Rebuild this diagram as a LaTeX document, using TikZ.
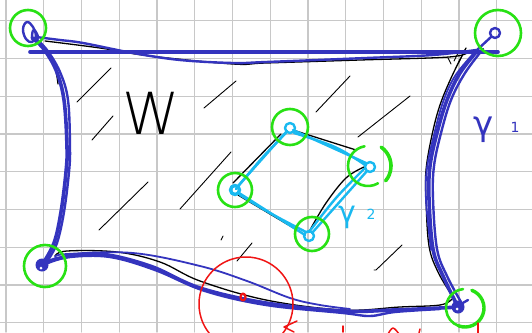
\documentclass[tikz,border=0pt]{standalone}
\usepackage{fontspec}
\newfontfamily\thinfont{DejaVu Sans ExtraLight}
\newfontfamily\labfont{DejaVu Sans}
\definecolor{pblue}{RGB}{52,52,190}
\definecolor{pcyan}{RGB}{25,185,240}
\definecolor{pgreen}{RGB}{40,225,20}
\definecolor{pred}{RGB}{240,20,20}
\definecolor{pgrid}{RGB}{200,200,200}
\begin{document}
\begin{tikzpicture}[x=1pt,y=-1pt,line cap=round,line join=round,
  gridl/.style={draw=pgrid,line width=1.4pt},
  bthick/.style={draw=pblue,line width=3.6pt},
  bmed/.style={draw=pblue,line width=2.4pt},
  bthin/.style={draw=pblue,line width=1.8pt},
  kcurve/.style={draw=black,line width=1.3pt},
  hatch/.style={draw=black,line width=0.9pt},
  cline/.style={draw=pcyan,line width=2.4pt},
  gring/.style={draw=pgreen,line width=2.6pt,circle,inner sep=0pt},
  garc/.style={draw=pgreen,line width=2.6pt},
  rline/.style={draw=pred,line width=1.5pt},
  lab/.style={anchor=base,inner sep=0pt}]
\useasboundingbox (0,0) rectangle (532,332);
\clip (0,0) rectangle (532,332);
\fill[white] (0,0) rectangle (532,332);
% grid
\foreach \i in {0,...,14} \draw[gridl] ({6+37.75*\i},0) -- ({6+37.75*\i},332);
\foreach \j in {0,...,8} \draw[gridl] (0,{20.7+37.75*\j}) -- (532,{20.7+37.75*\j});

% named points
\coordinate (TL) at (30,32);
\coordinate (TR) at (495,33);
\coordinate (BL) at (42,265);
\coordinate (BR) at (458,307);
\coordinate (T2) at (290,128);
\coordinate (R2) at (370,167);
\coordinate (B2) at (309,236);
\coordinate (L2) at (235,190);
\coordinate (X0) at (243,297);

% hatching
\draw[hatch] (77,102) -- (111,68);
\draw[hatch] (92,140) -- (113,116);
\draw[hatch] (204,108) -- (236,81);
\draw[hatch] (180,209) -- (231,152);
\draw[hatch] (99,230) -- (148,182);
\draw[hatch] (316,112) -- (350,76);
\draw[hatch] (358,137) -- (410,96);
\draw[hatch] (221,240) -- (223,236);
\draw[hatch] (237,261) -- (252,243);
\draw[hatch] (374,270) -- (376,270) -- (402,245);
\draw[hatch] (448,58) -- (451,64);
\draw[hatch] (454,61) -- (458,53);
\draw[hatch] (459,62) -- (465,50);

% black outline of W
\draw[kcurve] plot[smooth,tension=0.6] coordinates {(45,41) (100,48) (150,56) (233,64) (266,63) (360,60) (449,57) (468,52)};
\draw[kcurve] plot[smooth,tension=0.6] coordinates {(466,48) (452,76) (440,105) (432,135) (426,170) (426,200) (429,246) (438,272) (451,294)};
\draw[kcurve] plot[smooth,tension=0.6] coordinates {(55,256) (67,251) (117,252) (160,262) (200,281) (266,300) (343,310) (400,307) (440,305) (452,299)};
\draw[kcurve] plot[smooth,tension=0.6] coordinates {(47,55) (55,68) (58,84)};
\draw[kcurve] (296,131) -- (356,150);
\draw[kcurve] plot[smooth,tension=0.6] coordinates {(364,167) (346,178) (326,203) (310,230)};
\draw[kcurve] (302,233) -- (238,195);
\draw[kcurve] (233,183) -- (281,134);

% gamma 1 (blue boundary)
\draw[bthick] plot[smooth,tension=0.6] coordinates {(32,38) (43,48) (56,70) (64,100) (67,147) (66,172) (61,212) (54,243) (BL)};
\draw[bmed] plot[smooth,tension=0.6] coordinates {(35,38) (47,50) (60,72) (68,100) (70,147) (69,172) (64,212) (57,243) (48,260)};
\draw[bthick] (30,52) -- (498,52);
\draw[bmed] plot[smooth,tension=0.6] coordinates {(36,37) (60,40) (83,43) (133,53) (180,60) (233,63) (266,62) (366,58) (433,55) (476,50)};
\draw[bthick] plot[smooth,tension=0.6] coordinates {(478,50) (460,73) (447,100) (437,133) (430,166) (429,199) (433,249) (443,276) (BR)};
\draw[bmed] plot[smooth,tension=0.6] coordinates {(483,49) (465,73) (451,100) (441,133) (434,166) (433,199) (437,249) (447,276) (461,302)};
\draw[bthin] plot[smooth,tension=0.6] coordinates {(474,53) (455,76) (443,102) (434,135) (427,168) (426,200) (431,250)};
\draw[bthick] plot[smooth,tension=0.6] coordinates {(BL) (60,258) (100,254) (150,266) (200,288) (266,303) (343,311) (393,310) (440,308) (BR)};
\draw[bmed] plot[smooth,tension=0.6] coordinates {(48,263) (70,257) (110,257) (155,270) (205,291) (266,305) (343,313) (370,316) (395,312) (440,309)};
\draw[bthin] plot[smooth,tension=0.6] coordinates {(55,257) (67,254) (133,253) (200,266) (247,281) (290,298) (320,305) (350,309)};
% endpoints
\draw[bmed] plot[smooth cycle,tension=0.7] coordinates {(27,22) (23,29) (26,39) (32,42) (36,36) (33,27)};
\draw[bmed] plot[smooth cycle,tension=0.7] coordinates {(34,30) (32,36) (35,41) (38,37)};
\draw[bmed] (TR) circle[radius=5pt];
\draw[bmed] (491,37) -- (477,50);
\fill[pblue] (BL) circle[radius=6.5pt];
\fill[white] (41,268) circle[radius=1.5pt];
\fill[pblue] (BR) circle[radius=6.5pt];
\fill[white] (457,309) circle[radius=1.5pt];
\draw[bmed] (461,304) -- (468,300);

% gamma 2 (cyan)
\draw[cline] (293,130) -- (366,163);
\draw[cline] plot[smooth,tension=0.6] coordinates {(294,133) (335,147) (365,165)};
\draw[cline] (367,171) -- (312,233);
\draw[cline] plot[smooth,tension=0.6] coordinates {(364,169) (336,198) (309,232)};
\draw[cline] (305,235) -- (239,193);
\draw[cline] plot[smooth,tension=0.6] coordinates {(306,232) (270,213) (240,195)};
\draw[cline] (238,186) -- (287,131);
\draw[cline] plot[smooth,tension=0.6] coordinates {(236,189) (262,158) (286,133)};
\draw[cline] (T2) circle[radius=5pt];
\draw[cline] (R2) circle[radius=5pt];
\draw[cline] (B2) circle[radius=5pt];
\draw[cline,line width=3.4pt] (L2) circle[radius=4.5pt];

% green markers
\node[gring,minimum size=36pt] (gTL) at (28,28) {};
\node[gring,minimum size=46pt] (gTR) at (498,33) {};
\node[gring,minimum size=42pt] (gBL) at (45,266) {};
\node[gring,minimum size=36pt] (gT2) at (290,127) {};
\node[gring,minimum size=34pt] (gL2) at (235,190) {};
\node[gring,minimum size=34pt] (gB2) at (312,234) {};
\draw[garc] (368,166) ++(100:20pt) arc[start angle=100,end angle=300,radius=20pt];
\draw[garc,line width=3.6pt] (368,166) ++(55:23pt) arc[start angle=55,end angle=-40,radius=23pt];
\draw[garc] (465,308) ++(96:19pt) arc[start angle=96,end angle=250,radius=19pt];
\draw[garc,line width=3.4pt] (465,308) ++(250:19pt) arc[start angle=250,end angle=429,radius=19pt];

% red point and disc
\draw[rline] (246,304) circle[radius=47pt];
\draw[pred,line width=2.2pt] (X0) ellipse[x radius=2.5pt,y radius=3.5pt];
\draw[rline] (297,321) -- (284,327) -- (294,332);
\draw[rline] (343,326) -- (343,332);
\draw[rline] plot[smooth,tension=0.6] coordinates {(388,334) (393,328) (399,334)};
\draw[rline] (420,329) -- (419,333);
\draw[rline] (478,323) -- (478,333);

% labels
\node[lab,text=black] (W) at (151,134) {\thinfont\fontsize{58}{58}\selectfont W};
\node[lab,text=pblue] (g1) at (484,135) {\labfont\fontsize{34}{34}\selectfont γ};
\node[lab,text=pblue] (g1i) at (515,132) {\labfont\fontsize{14}{14}\selectfont 1};
\node[lab,text=pcyan] (g2) at (347,222) {\labfont\fontsize{30}{30}\selectfont γ};
\node[lab,text=pcyan] (g2i) at (371,219) {\labfont\fontsize{14}{14}\selectfont 2};
\end{tikzpicture}
\end{document}
